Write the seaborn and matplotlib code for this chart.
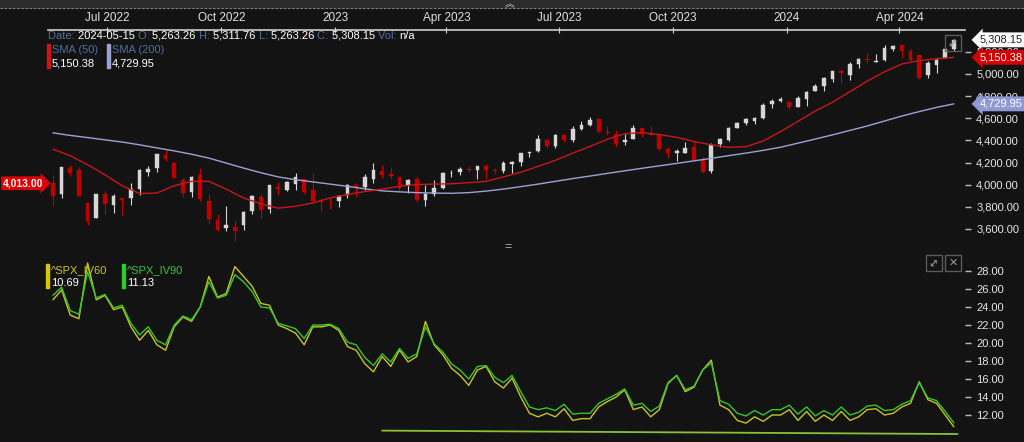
import numpy as np
import pandas as pd
import matplotlib.pyplot as plt
import matplotlib.transforms as mtrans
from matplotlib.lines import Line2D
from matplotlib.patches import Rectangle
import seaborn as sns

# weekly candles (S&P 500), week centre dates
weeks = pd.date_range('2022-05-18', periods=105, freq='7D')

opens = [4013, 3920, 4153, 4134, 3838, 3700, 3920, 3815, 3880, 3883,
         3965, 4113, 4155, 4270, 4195, 4042, 3930, 4084, 3855, 3682,
         3610, 3619, 3638, 3765, 3885, 3780, 3978, 3956, 4005, 4052,
         3954, 3853, 3843,
         3853, 3911, 3999, 3979, 4053, 4119, 4096, 4068, 3993, 4055,
         3859, 3917, 3972, 4102, 4110, 4140, 4134, 4166, 4136, 4126,
         4190, 4205, 4282, 4300, 4405, 4348, 4450, 4404, 4502, 4543,
         4590, 4479, 4459, 4389, 4415, 4510, 4463, 4445, 4320, 4284,
         4289, 4342, 4224, 4120, 4364, 4407, 4511, 4555, 4576, 4605,
         4725, 4758,
         4745, 4703, 4772, 4849, 4888, 4957, 5026, 4995, 5093, 5132,
         5111, 5123, 5226, 5257, 5211, 5171, 4987, 5085, 5143, 5221]
highs = [4090, 4158, 4177, 4164, 3838, 3913, 3945, 3919, 3880, 4012,
         4140, 4167, 4281, 4325, 4203, 4062, 4077, 4150, 3919, 3736,
         3806, 3685, 3762, 3906, 3912, 4001, 4028, 4034, 4101, 4052,
         4101, 3879, 3878,
         3906, 4003, 4015, 4095, 4195, 4176, 4156, 4069, 4048, 4078,
         3994, 4039, 4110, 4134, 4163, 4170, 4170, 4186, 4154, 4212,
         4212, 4290, 4299, 4448, 4409, 4458, 4456, 4528, 4578, 4607,
         4594, 4527, 4490, 4458, 4541, 4514, 4528, 4466, 4338, 4324,
         4386, 4393, 4259, 4374, 4418, 4521, 4568, 4598, 4609, 4738,
         4778, 4793,
         4755, 4802, 4842, 4907, 4975, 5030, 5049, 5111, 5140, 5189,
         5180, 5262, 5265, 5264, 5222, 5175, 5114, 5140, 5239, 5311.76]
lows = [3810, 3876, 4074, 3900, 3636, 3695, 3738, 3742, 3722, 3819,
        3911, 4079, 4112, 4218, 4057, 3887, 3886, 3856, 3647, 3584,
        3585, 3491, 3590, 3738, 3698, 3743, 3906, 3943, 3955, 3919,
        3827, 3764, 3783,
        3794, 3877, 3885, 3949, 4015, 4060, 4047, 3944, 3928, 3847,
        3808, 3901, 3960, 4069, 4086, 4114, 4049, 4048, 4098, 4103,
        4103, 4167, 4253, 4292, 4333, 4328, 4385, 4386, 4492, 4528,
        4474, 4453, 4336, 4356, 4414, 4430, 4450, 4317, 4238, 4216,
        4284, 4223, 4104, 4103, 4340, 4393, 4510, 4537, 4546, 4593,
        4695, 4751,
        4683, 4700, 4714, 4844, 4845, 4928, 4920, 4946, 5057, 5102,
        5104, 5117, 5203, 5146, 5107, 4954, 4964, 5011, 5142, 5203]
closes = [3901, 4158, 4109, 3901, 3675, 3912, 3825, 3899, 3863, 3962,
          4130, 4145, 4280, 4228, 4058, 3924, 4067, 3873, 3693, 3586,
          3640, 3583, 3752, 3901, 3770, 3993, 3965, 4026, 4072, 3934,
          3852, 3845, 3840,
          3895, 3999, 3973, 4071, 4136, 4090, 4079, 3970, 4045, 3861,
          3916, 3971, 4109, 4105, 4137, 4133, 4169, 4136, 4124, 4192,
          4205, 4282, 4299, 4410, 4348, 4450, 4399, 4505, 4536, 4582,
          4478, 4464, 4370, 4406, 4516, 4457, 4450, 4320, 4288, 4308,
          4327, 4224, 4117, 4358, 4415, 4514, 4559, 4594, 4604, 4719,
          4754, 4770,
          4697, 4784, 4840, 4891, 4959, 5027, 5006, 5089, 5137, 5124,
          5117, 5234, 5254, 5204, 5123, 4967, 5100, 5128, 5223, 5308.15]

sma_dates = weeks[::2]
sma50 = [4320, 4262, 4180, 4090, 3990, 3920, 3925, 3990, 4030, 4030,
         3960, 3880, 3828, 3788, 3805, 3835, 3880, 3912, 3938, 3960,
         3985, 4000, 4005, 4008, 4018, 4030, 4070, 4112, 4165, 4220,
         4285, 4345, 4410, 4460, 4470, 4452, 4428, 4390, 4360, 4338,
         4343, 4395, 4480, 4572, 4665, 4745, 4840, 4935, 5020, 5090,
         5120, 5138, 5150.38]
sma200 = [4468, 4445, 4425, 4405, 4385, 4360, 4332, 4305, 4275, 4240,
          4195, 4150, 4108, 4070, 4045, 4025, 4005, 3985, 3962, 3944,
          3935, 3928, 3924, 3922, 3928, 3942, 3960, 3982, 4005, 4030,
          4055, 4078, 4102, 4125, 4148, 4170, 4192, 4215, 4238, 4262,
          4285, 4310, 4338, 4375, 4412, 4450, 4490, 4530, 4575, 4620,
          4660, 4698, 4729.95]

iv60 = [24.8, 25.9, 23.1, 22.7, 28.9, 24.8, 25.3, 23.7, 24.0, 21.8,
        20.3, 21.4, 19.8, 19.2, 21.8, 22.9, 22.4, 24.0, 27.4, 25.1,
        25.5, 28.5, 27.4, 26.3, 24.4, 24.2, 22.0, 21.6, 21.1, 19.8,
        21.8, 21.8, 22.0, 21.4, 19.6, 19.2, 17.7, 16.8, 18.5, 17.4,
        19.2, 17.9, 18.5, 22.4, 19.8, 18.7, 17.2, 16.4, 15.3, 17.0,
        17.4, 15.7, 15.0, 16.1, 14.0, 12.2, 11.8, 12.2, 11.8, 12.7,
        11.4, 11.6, 11.6, 12.9, 13.5, 14.0, 14.8, 12.6, 12.9, 11.8,
        12.6, 15.5, 16.4, 14.6, 15.1, 17.0, 18.1, 13.1, 12.6, 11.4,
        11.1, 11.8, 11.3, 12.0, 12.0, 12.6, 11.4, 12.4, 11.3, 12.0,
        11.4, 12.4, 11.4, 11.8, 12.6, 12.7, 12.0, 12.2, 12.9, 13.3,
        15.7, 13.7, 13.3, 12.0, 10.69]
iv90 = [25.3, 26.2, 23.6, 23.2, 27.9, 25.0, 25.4, 23.9, 24.2, 22.2,
        20.9, 21.8, 20.3, 19.8, 22.0, 23.0, 22.6, 24.0, 26.8, 25.0,
        25.3, 27.6, 26.8, 25.7, 24.0, 23.9, 22.2, 21.9, 21.6, 20.5,
        22.0, 22.0, 22.1, 21.6, 20.1, 19.8, 18.4, 17.5, 18.8, 17.9,
        19.4, 18.3, 18.8, 21.8, 19.9, 19.0, 17.7, 17.0, 16.0, 17.4,
        17.5, 16.2, 15.6, 16.4, 14.6, 12.9, 12.6, 12.8, 12.5, 13.2,
        12.1, 12.2, 12.2, 13.3, 13.8, 14.3, 14.9, 13.1, 13.3, 12.4,
        13.0, 15.6, 16.4, 14.8, 15.2, 17.0, 17.8, 13.6, 13.2, 12.2,
        11.9, 12.5, 12.0, 12.6, 12.6, 13.1, 12.1, 12.9, 11.9, 12.5,
        12.0, 12.9, 12.0, 12.3, 13.0, 13.1, 12.5, 12.6, 13.2, 13.6,
        15.6, 13.9, 13.6, 12.4, 11.13]

trend_dates = pd.to_datetime(['2023-02-08', '2024-05-18'])
trend_vals = [10.27, 9.89]

price_ticks = [3600, 3800, 4000, 4200, 4400, 4600, 4800, 5000, 5200]
iv_ticks = [12, 14, 16, 18, 20, 22, 24, 26, 28]
month_ticks = pd.to_datetime(['2022-07-01', '2022-10-01', '2023-01-01', '2023-04-01',
                              '2023-07-01', '2023-10-01', '2024-01-01', '2024-04-01'])
month_labels = ['Jul 2022', 'Oct 2022', '2023', 'Apr 2023', 'Jul 2023', 'Oct 2023', '2024', 'Apr 2024']

bg = '#131313'
sns.set_style('dark', rc={'axes.facecolor': bg, 'figure.facecolor': bg, 'axes.grid': False})
plt.rcParams['font.family'] = ['Liberation Sans', 'DejaVu Sans']

fig = plt.figure(figsize=(10.24, 4.42), dpi=100)
W, H = 1024, 442

def fx(x):
    return x / W

def fy(y):
    return 1 - y / H

ax1 = fig.add_axes([fx(48), fy(245), fx(917), 215 / H])
ax2 = fig.add_axes([fx(48), fy(437), fx(917), 182 / H])
xlim = (pd.Timestamp('2022-05-14'), pd.Timestamp('2024-05-24'))

# candles
df = pd.DataFrame({'date': weeks, 'open': opens, 'high': highs, 'low': lows, 'close': closes})
up = df['close'] >= df['open']
cols = np.where(up, '#d6d6d6', '#c00000')
ax1.vlines(df['date'], df['low'], df['high'], colors=cols, lw=0.8, zorder=2)
body = (df['close'] - df['open']).abs().clip(lower=6)
ax1.bar(df['date'], body, bottom=np.minimum(df['open'], df['close']), width=3.0,
        color=cols, edgecolor=cols, lw=0.3, zorder=2)

sns.lineplot(x=sma_dates, y=sma200, ax=ax1, color='#9ba2d6', lw=1.0, zorder=3)
sns.lineplot(x=sma_dates, y=sma50, ax=ax1, color='#c8161b', lw=1.0, zorder=3)

sns.lineplot(x=weeks, y=iv60, ax=ax2, color='#c9c41a', lw=1.0)
sns.lineplot(x=weeks, y=iv90, ax=ax2, color='#34c72e', lw=1.0)
sns.lineplot(x=trend_dates, y=trend_vals, ax=ax2, color='#86c233', lw=1.3)

for ax in (ax1, ax2):
    ax.set_xlim(*xlim)
    ax.set_xlabel('')
    ax.set_ylabel('')
    for s in ax.spines.values():
        s.set_visible(False)
    ax.yaxis.tick_right()
    ax.tick_params(axis='y', colors='#bdbdbd', labelcolor='#e6e6e6', labelsize=8,
                   length=4, width=1, pad=4, direction='out')

ax1.set_ylim(3455, 5397)
ax1.set_yticks(price_ticks)
ax1.set_yticklabels([f'{v:,.2f}' for v in price_ticks])
ax1.set_xticks(month_ticks)
ax1.set_xticklabels(month_labels)
ax1.xaxis.set_ticks_position('top')
ax1.tick_params(axis='x', colors='#cfcfcf', labelcolor='#e0e0e0', labelsize=8.5,
                length=4, direction='inout', pad=2)
ax1.spines['top'].set_visible(True)
ax1.spines['top'].set_color('#cfcfcf')
ax1.spines['top'].set_linewidth(1.2)

ax2.set_ylim(9.56, 29.78)
ax2.set_yticks(iv_ticks)
ax2.set_yticklabels([f'{v:.2f}' for v in iv_ticks])
ax2.set_xticks([])

# price badges
bt = mtrans.blended_transform_factory(ax1.transAxes, ax1.transData)
badges = [(5308.15, '5,308.15', 'white', '#222222'),
          (5150.38, '5,150.38', '#d40000', 'white'),
          (4729.95, '4,729.95', '#8e9ad6', 'white')]
for v, s, fc, tc in badges:
    ax1.text(1.016, v, s, transform=bt, ha='left', va='center', fontsize=8, color=tc,
             bbox=dict(boxstyle='larrow,pad=0.22', fc=fc, ec='none'), clip_on=False, zorder=10)
lt = mtrans.blended_transform_factory(fig.transFigure, ax1.transData)
fig.text(fx(3), opens[0], f'{opens[0]:,.2f}', transform=lt, ha='left', va='center',
         fontsize=7.5, color='white', fontweight='bold',
         bbox=dict(boxstyle='rarrow,pad=0.18', fc='#e00000', ec='none'), zorder=10)

# header line with mixed colours
lab_c = '#4f6f9e'
parts = [('Date: ', lab_c), ('2024-05-15 ', 'white'), ('O: ', lab_c), ('5,263.26 ', 'white'),
         ('H: ', lab_c), ('5,311.76 ', 'white'), ('L: ', lab_c), ('5,263.26 ', 'white'),
         ('C: ', lab_c), ('5,308.15 ', 'white'), ('Vol: ', lab_c), ('n/a', 'white')]
t = fig.text(fx(48), fy(41), parts[0][0], color=parts[0][1], fontsize=8, va='bottom')
for s, c in parts[1:]:
    t = ax1.annotate(s, xy=(1, 0), xycoords=t, va='bottom', ha='left', color=c, fontsize=8)

def legend_item(x, y, name, val, col, namecol):
    fig.patches.append(Rectangle((fx(x), fy(y + 24)), 3 / W, 24 / H, transform=fig.transFigure,
                                 color=col, zorder=5))
    fig.text(fx(x + 5), fy(y + 6), name, color=namecol, fontsize=8, va='center')
    fig.text(fx(x + 5), fy(y + 19), val, color='white', fontsize=8, va='center')

legend_item(47, 44, 'SMA (50)', '5,150.38', '#c8161b', lab_c)
legend_item(107, 44, 'SMA (200)', '4,729.95', '#9ba2d6', lab_c)
legend_item(46, 264, '^SPX_IV60', '10.69', '#d4c800', '#c9c41a')
legend_item(122, 264, '^SPX_IV90', '11.13', '#2ecc2e', '#34c72e')

# top strip and chrome
fig.patches.append(Rectangle((0, fy(8)), 1, 8 / H, transform=fig.transFigure, color='#2c2c2c'))
fig.add_artist(Line2D([0, 1], [fy(8), fy(8)], transform=fig.transFigure, color='#8a8a8a',
                      lw=0.6, ls=(0, (3, 2))))
fig.text(fx(510), fy(4), '︽', color='#cccccc', fontsize=7, ha='center', va='center',
         family=['Noto Sans CJK SC', 'DejaVu Sans'])
fig.text(fx(508), fy(247), '=', color='#aaaaaa', fontsize=9, ha='center', va='center')

# panel buttons
for x, y in [(953, 43), (934, 263), (953, 263)]:
    fig.patches.append(Rectangle((fx(x - 8), fy(y + 8)), 16 / W, 16 / H, transform=fig.transFigure,
                                 fc='none', ec='#5a5a5a', lw=1))
for x, y in [(953, 43), (934, 263)]:
    fig.text(fx(x), fy(y), '↔', color='#9a9a9a', fontsize=8, rotation=45,
             ha='center', va='center', family=['DejaVu Sans'])
fig.text(fx(953), fy(263), '✕', color='#9a9a9a', fontsize=8, ha='center', va='center',
         family=['DejaVu Sans'])

fig.savefig('out.png', dpi=100, facecolor=bg)
